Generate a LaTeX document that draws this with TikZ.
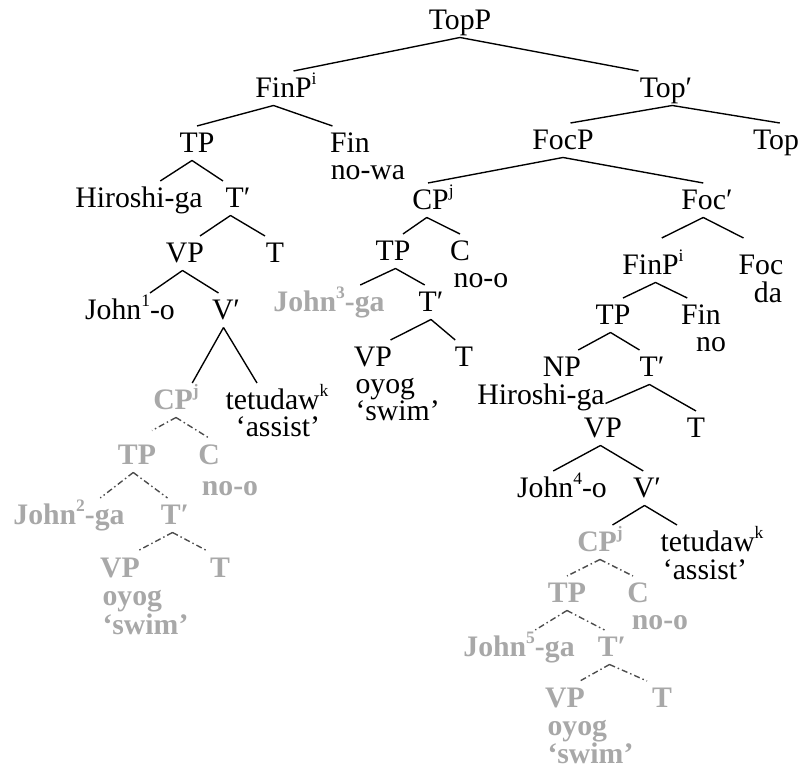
\documentclass[tikz,border=0pt]{standalone}
\usepackage{fontspec}
\setmainfont{Liberation Serif}
\newcommand\treefont{\fontsize{11.9}{12}\selectfont}
\newcommand\idx[1]{\raisebox{0.45em}{\fontsize{7}{7}\selectfont #1}}
\definecolor{ghostgray}{HTML}{A8A8A8}

\begin{document}
\begin{tikzpicture}[x=0.4pt, y=-0.4pt,
    cat/.style = {anchor=base, inner xsep=0pt, inner ysep=2.6pt, text height=8pt, text depth=0.2pt, font=\treefont},
    ghost/.style = {cat, text=ghostgray, font=\treefont\bfseries},
    branch/.style = {line width=0.55pt},
    trace/.style = {line width=0.55pt, black!70, dash pattern=on 2.4pt off 1.2pt on 0.6pt off 1.2pt}]
    \useasboundingbox (0,0) rectangle (801,770);

    \node[cat] (topp) at (460,30) {TopP};
    \node[cat] (finpa) at (286,98) {FinP\idx{i}};
    \node[cat] (topbar) at (666,98) {Top′};

    % FinP subtree
    \node[cat] (tpa) at (197,153) {TP};
    \node[cat] (fina) at (350,153) {Fin};
    \node[cat] (nowa) at (368,180) {no-wa};
    \node[cat] (hiroa) at (139,208) {Hiroshi-ga};
    \node[cat] (tbara) at (238,208) {T′};
    \node[cat] (vpa) at (185,263) {VP};
    \node[cat] (ta) at (275,263) {T};
    \node[cat] (johna) at (130,320) {John\idx{1}-o};
    \node[cat] (vbara) at (226,320) {V′};
    \node[ghost] (cpa) at (176,410) {CP\idx{j}};
    \node[cat] (teta) at (277,410) {tetudaw\idx{k}};
    \node[cat] (assista) at (278,437) {‘assist’};
    \node[ghost] (tpb) at (137,465) {TP};
    \node[ghost] (cb) at (209,465) {C};
    \node[ghost] (noob) at (230,496) {no-o};
    \node[ghost] (johnb) at (69,525) {John\idx{2}-ga};
    \node[ghost] (tbarb) at (175,525) {T′};
    \node[ghost] (vpb) at (120,578) {VP};
    \node[ghost] (tb) at (220,578) {T};
    \node[ghost, anchor=base west] (oyogb) at (102,606) {oyog};
    \node[ghost, anchor=base west] (swimb) at (102,635) {‘swim’};

    % Top' subtree
    \node[cat] (focp) at (563,150) {FocP};
    \node[cat] (top) at (776,150) {Top};
    \node[cat] (cpc) at (433,210) {CP\idx{j}};
    \node[cat] (focbar) at (707,210) {Foc′};
    \node[cat] (tpc) at (393,261) {TP};
    \node[cat] (cc) at (460,261) {C};
    \node[cat] (nooc) at (481,288) {no-o};
    \node[ghost] (johnc) at (329,312) {John\idx{3}-ga};
    \node[cat] (tbarc) at (431,312) {T′};
    \node[cat] (vpc) at (373,367) {VP};
    \node[cat] (tc) at (464,367) {T};
    \node[cat, anchor=base west] (oyogc) at (355,394) {oyog};
    \node[cat, anchor=base west] (swimc) at (355,421) {‘swim’};

    \node[cat] (finpd) at (653,275) {FinP\idx{i}};
    \node[cat] (foc) at (761,275) {Foc};
    \node[cat] (da) at (768,303) {da};
    \node[cat] (tpd) at (613,325) {TP};
    \node[cat] (find) at (701,325) {Fin};
    \node[cat] (no) at (711,352) {no};
    \node[cat] (np) at (562,377) {NP};
    \node[cat] (hirod) at (541,405) {Hiroshi-ga};
    \node[cat] (tbard) at (652,377) {T′};
    \node[cat] (vpd) at (603,438) {VP};
    \node[cat] (td) at (696,438) {T};
    \node[cat] (johnd) at (562,498) {John\idx{4}-o};
    \node[cat] (vbard) at (647,498) {V′};
    \node[ghost] (cpe) at (600,552) {CP\idx{j}};
    \node[cat] (tete) at (712,552) {tetudaw\idx{k}};
    \node[cat] (assiste) at (705,580) {‘assist’};
    \node[ghost] (tpe) at (567,603) {TP};
    \node[ghost] (ce) at (638,603) {C};
    \node[ghost] (nooe) at (660,630) {no-o};
    \node[ghost] (johne) at (519,657) {John\idx{5}-ga};
    \node[ghost] (tbare) at (612,657) {T′};
    \node[ghost] (vpe) at (565,708) {VP};
    \node[ghost] (te) at (662,708) {T};
    \node[ghost, anchor=base west] (oyoge) at (547,736) {oyog};
    \node[ghost, anchor=base west] (swime) at (547,764) {‘swim’};

    % branches
    \draw[branch] (topp.south) -- ([xshift=3pt]finpa.north)
                  (topp.south) -- ([xshift=-11pt]topbar.north);
    \draw[branch] ([xshift=-5pt]finpa.south) -- (tpa.north)
                  ([xshift=-5pt]finpa.south) -- ([xshift=-7pt]fina.north);
    \draw[branch] ([xshift=-2pt]tpa.south) -- ([xshift=8.5pt]hiroa.north)
                  ([xshift=-2pt]tpa.south) -- ([xshift=-6pt]tbara.north);
    \draw[branch] ([xshift=-3pt]tbara.south) -- ([xshift=6pt]vpa.north)
                  ([xshift=-3pt]tbara.south) -- ([xshift=-4pt]ta.north);
    \draw[branch] ([xshift=-1pt]vpa.south) -- ([xshift=8pt]johna.north)
                  ([xshift=-1pt]vpa.south) -- ([xshift=-3pt]vbara.north);
    \draw[branch] ([xshift=-1pt]vbara.south) -- ([xshift=6.5pt]cpa.north)
                  ([xshift=-1pt]vbara.south) -- ([xshift=-8pt]teta.north);
    \draw[trace] (cpa.south) -- ([xshift=6pt, yshift=3pt]tpb.north)
                 (cpa.south) -- (cb.north);
    \draw[trace] ([xshift=-1.5pt]tpb.south) -- ([xshift=12.5pt]johnb.north)
                 ([xshift=-1.5pt]tpb.south) -- ([xshift=-3pt]tbarb.north);
    \draw[trace] ([xshift=-1pt]tbarb.south) -- ([xshift=7pt]vpb.north)
                 ([xshift=-1pt]tbarb.south) -- ([xshift=-5pt]tb.north);

    \draw[branch] ([xshift=2.5pt]topbar.south) -- ([xshift=3pt]focp.north)
                  ([xshift=2.5pt]topbar.south) -- ([xshift=1.5pt]top.north);
    \draw[branch] (focp.south) -- ([xshift=-2pt]cpc.north)
                  (focp.south) -- ([xshift=-1.5pt]focbar.north);
    \draw[branch] ([xshift=-2.5pt]cpc.south) -- ([xshift=4pt]tpc.north)
                  ([xshift=-2.5pt]cpc.south) -- (cc.north);
    \draw[branch] ([xshift=1pt]tpc.south) -- ([xshift=12.5pt]johnc.north)
                  ([xshift=1pt]tpc.south) -- ([xshift=-2.5pt]tbarc.north);
    \draw[branch] (tbarc.south) -- ([xshift=7pt]vpc.north)
                  (tbarc.south) -- ([xshift=-3.5pt]tc.north);
    \draw[branch] ([xshift=-1.5pt]focbar.south) -- ([xshift=3.5pt, yshift=4pt]finpd.north)
                  ([xshift=-1.5pt]focbar.south) -- ([xshift=-7pt, yshift=4pt]foc.north);
    \draw[branch] ([xshift=1pt]finpd.south) -- ([xshift=4pt]tpd.north)
                  ([xshift=1pt]finpd.south) -- ([xshift=-5.5pt]find.north);
    \draw[branch] ([xshift=-1pt]tpd.south) -- ([xshift=6.5pt]np.north)
                  ([xshift=-1pt]tpd.south) -- ([xshift=-5pt]tbard.north);
    \draw[branch] ([xshift=-1pt]tbard.south) -- ([xshift=1pt, yshift=3pt]vpd.north)
                  ([xshift=-1pt]tbard.south) -- (td.north);
    \draw[branch] ([xshift=-1pt]vpd.south) -- ([xshift=-3.5pt]johnd.north)
                  ([xshift=-1pt]vpd.south) -- ([xshift=-1.5pt]vbard.north);
    \draw[branch] ([xshift=-1pt]vbard.south) -- ([xshift=5pt]cpe.north)
                  ([xshift=-1pt]vbard.south) -- ([xshift=-14pt]tete.north);
    \draw[trace] (cpe.south) -- (tpe.north)
                 (cpe.south) -- ([xshift=-2pt]ce.north);
    \draw[trace] (tpe.south) -- ([xshift=6.5pt]johne.north)
                 (tpe.south) -- ([xshift=-3pt]tbare.north);
    \draw[trace] ([xshift=-1pt]tbare.south) -- ([xshift=6pt]vpe.north)
                 ([xshift=-1pt]tbare.south) -- ([xshift=-6pt]te.north);
\end{tikzpicture}
\end{document}
